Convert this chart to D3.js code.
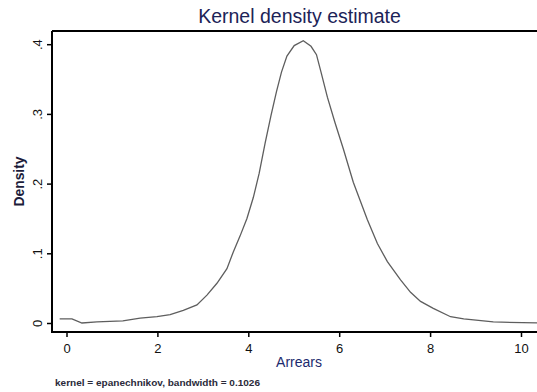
<!DOCTYPE html>
<html>
<head>
<meta charset="utf-8">
<script src="https://cdn.jsdelivr.net/npm/d3@7"></script>
<style>
  body { margin: 0; background: #fff; }
  svg { display: block; font-family: "Liberation Sans", Arial, sans-serif; }
</style>
</head>
<body>
<svg id="chart"></svg>
<script>
// Data
const arrears = [-0.15, 0.12, 0.34, 0.67, 1.24, 1.62, 1.99, 2.28, 2.57, 2.87, 3.09, 3.31, 3.53, 3.67, 3.82,
    3.97, 4.11, 4.24, 4.37, 4.50, 4.62, 4.73, 4.85, 5.01, 5.21, 5.38, 5.50, 5.60, 5.74, 5.91, 6.09, 6.31,
    6.62, 6.84, 7.06, 7.35, 7.57, 7.79, 8.07, 8.45, 8.74, 9.39, 10.4];
const density = [0.006, 0.006, 0.0, 0.0015, 0.003, 0.007, 0.009, 0.012, 0.018, 0.026, 0.040, 0.057, 0.078, 0.102, 0.125,
    0.150, 0.180, 0.215, 0.258, 0.298, 0.332, 0.360, 0.383, 0.398, 0.405, 0.397, 0.385, 0.360, 0.324, 0.287, 0.250, 0.202,
    0.148, 0.114, 0.088, 0.062, 0.044, 0.031, 0.021, 0.009, 0.006, 0.0015, 0.0];
const xTicks = [0, 2, 4, 6, 8, 10];
const yTicks = [0, 0.1, 0.2, 0.3, 0.4];
const yTickLabels = ["0", ".1", ".2", ".3", ".4"];

const width = 537, height = 392;
const svg = d3.select("#chart").attr("width", width).attr("height", height);

// plot area (right edge falls just off the canvas)
const plotLeft = 52, plotRight = 547, plotTop = 31, plotBottom = 332;

const x = d3.scaleLinear().domain([0, 10]).range([66.5, 521]);
const y = d3.scaleLinear().domain([0, 0.4]).range([323, 44.2]);

// title
svg.append("text")
    .attr("x", (plotLeft + plotRight) / 2).attr("y", 23)
    .attr("text-anchor", "middle")
    .attr("font-size", 19.5)
    .attr("fill", "#1c2357")
    .text("Kernel density estimate");

// frame line at top
svg.append("line").attr("x1", plotLeft).attr("x2", plotRight).attr("y1", plotTop).attr("y2", plotTop)
    .attr("stroke", "#000").attr("stroke-width", 2);

// density curve
const line = d3.line().x((d, i) => x(arrears[i])).y(d => y(d));
svg.append("path")
    .datum(density)
    .attr("d", line)
    .attr("fill", "none")
    .attr("stroke", "#5e5e5e")
    .attr("stroke-width", 1.3);

// y axis
const yAxis = svg.append("g")
    .attr("transform", `translate(${plotLeft},0)`)
    .call(d3.axisLeft(y).tickValues(yTicks).tickSize(5).tickSizeOuter(0)
        .tickFormat((d, i) => yTickLabels[i]));
yAxis.select(".domain").attr("d", `M0,${plotTop}V${plotBottom + 1}`).attr("stroke-width", 2);
yAxis.selectAll(".tick line").attr("stroke-width", 1.5);
yAxis.selectAll(".tick text")
    .attr("font-size", 13).attr("fill", "#111")
    .attr("x", null).attr("dy", null)
    .attr("text-anchor", "middle")
    .attr("transform", "translate(-10,0) rotate(-90)");

// x axis
const xAxis = svg.append("g")
    .attr("transform", `translate(0,${plotBottom})`)
    .call(d3.axisBottom(x).tickValues(xTicks).tickSize(5).tickSizeOuter(0));
xAxis.select(".domain").attr("d", `M${plotLeft - 1},0H${plotRight}`).attr("stroke-width", 2);
xAxis.selectAll(".tick line").attr("stroke-width", 1.5);
xAxis.selectAll(".tick text")
    .attr("font-size", 13).attr("fill", "#111")
    .attr("y", 12);

// axis titles
svg.append("text")
    .attr("x", 299).attr("y", 367)
    .attr("text-anchor", "middle")
    .attr("font-size", 14)
    .attr("fill", "#1c2a6e")
    .text("Arrears");

svg.append("text")
    .attr("transform", `translate(24,${(plotTop + plotBottom) / 2}) rotate(-90)`)
    .attr("text-anchor", "middle")
    .attr("font-size", 14)
    .attr("font-weight", "bold")
    .attr("fill", "#1c1c3a")
    .attr("textLength", 50)
    .attr("lengthAdjust", "spacingAndGlyphs")
    .text("Density");

// note
svg.append("text")
    .attr("x", 55).attr("y", 386)
    .attr("font-size", 8.5)
    .attr("font-weight", "bold")
    .attr("fill", "#2a2a3a")
    .attr("textLength", 205)
    .attr("lengthAdjust", "spacingAndGlyphs")
    .text("kernel = epanechnikov, bandwidth = 0.1026");
</script>
</body>
</html>
